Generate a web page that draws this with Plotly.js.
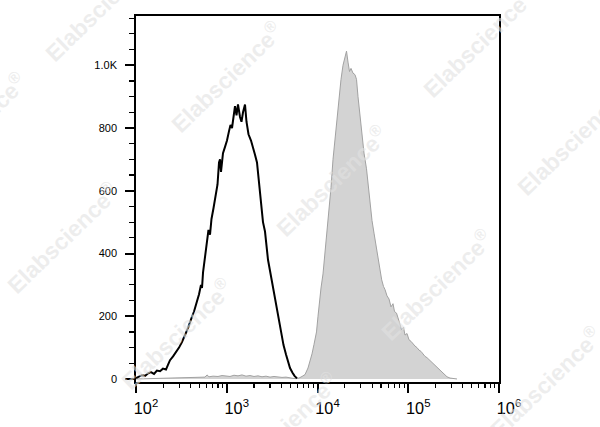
<!DOCTYPE html>
<html>
<head>
<meta charset="utf-8">
<script src="https://cdn.plot.ly/plotly-3.0.1.min.js"></script>
<style>html,body{margin:0;padding:0;background:#fff;}#chart{width:600px;height:427px;}</style>
</head>
<body>
<div id="chart"></div>
<script>
// Control (black outline) histogram: fluorescence intensity vs count
const controlIntensity = [100,108,116,126,136,146,158,170,184,198,214,225,237,256,276,298,321,347,374,404,436,470,495,520,534,548,576,606,629,654,679,715,752,791,822,843,864,909,957,1006,1059,1100,1143,1187,1233,1281,1330,1400,1454,1511,1589,1650,1736,1850,1947,2048,2154,2238,2325,2415,2508,2639,2742,2848,2996,3152,3316,3534,3765,3961,4221,4498,4732,4977,5304,5580,5946];
const controlCount = [3,8,12,10,18,22,16,27,25,33,30,45,60,72,85,100,118,138,162,190,215,248,270,300,290,340,395,440,475,460,510,545,580,620,690,700,660,720,740,760,790,810,800,840,870,840,875,835,820,850,875,820,780,760,740,715,690,640,600,530,500,470,420,380,345,310,270,230,180,140,108,78,55,35,20,10,2];

// Stained sample (grey filled) histogram
const stainedIntensity = [100,143,198,269,394,507,576,606,637,706,801,887,981,1086,1202,1330,1472,1630,1804,1997,2210,2446,2707,2996,3316,3670,4062,4498,4977,5370,5797,6254,6748,7283,7858,8268,8697,9149,9750,10130,10520,10930,11500,12090,12730,13390,14080,14820,15590,16400,17260,18160,19100,19840,20870,21680,22520,23390,24610,25890,26900,27940,29400,30930,32540,34670,36010,37890,39860,41940,44120,46420,48840,50990,53380,55450,58340,61370,64570,67920,70550,74220,77110,81130,84270,88660,92110,96900,101900,107200,112800,118700,124900,131400,138200,145400,152900,160900,169300,178100,187400,197100,207400,218200,229600,241500,254100,267300,288500,311300,344600];
const stainedCount = [0,1,2,3,3,4,6,13,7,9,8,11,9,8,12,10,13,9,11,8,10,7,9,6,8,6,5,6,3,2,1,3,8,14,35,55,80,110,150,200,250,290,335,400,455,540,610,700,770,815,900,955,1000,1020,1045,1010,980,990,975,970,955,900,840,780,720,670,620,560,505,465,425,390,350,316,295,285,265,255,230,240,215,210,195,175,158,165,140,145,125,120,112,105,100,92,88,78,72,68,62,55,50,42,35,32,25,18,12,7,3,1,0];

// Axis tick labels
const yTickVals = [0,200,400,600,800,1000];
const yTickText = ['0','200','400','600','800','1.0K'];
const watermarkText = 'Elabscience<sup>®</sup>';

// plot area in px (for watermark placement only)
const L = 136, R = 499, T = 16, B = 382;
const wmCenters = [[226,77],[331,181],[436,285],[545,382],[100,6],[478,42],[572,140],[62,238],[176,334],[282,428],[-30,128]];
const annotations = wmCenters.map(([px,py]) => ({
  xref:'paper', yref:'paper',
  x:(px-L)/(R-L), y:(B-py)/(B-T),
  xanchor:'center', yanchor:'middle',
  text: watermarkText, showarrow:false, textangle:-44,
  font:{family:'Liberation Sans, Arial, sans-serif', size:23, color:'rgba(226,226,226,0.6)', weight:'bold'}
}));

const traces = [
  {x: stainedIntensity, y: stainedCount, type:'scatter', mode:'lines', fill:'tozeroy',
   fillcolor:'#d3d3d3', line:{color:'#a2a2a2', width:1}, hoverinfo:'skip'},
  {x: controlIntensity, y: controlCount, type:'scatter', mode:'lines',
   line:{color:'#000000', width:2}, hoverinfo:'skip'}
];

const layout = {
  width:600, height:427,
  margin:{l:L, r:600-R, t:T, b:427-B, pad:0},
  paper_bgcolor:'#ffffff', plot_bgcolor:'#ffffff',
  showlegend:false,
  font:{family:'Liberation Sans, Arial, sans-serif', color:'#000'},
  xaxis:{
    type:'log', range:[2,6], dtick:1, tick0:0,
    exponentformat:'power', showexponent:'all',
    ticks:'outside', ticklen:9, tickwidth:2, tickcolor:'#000',
    minor:{ticks:'outside', dtick:'D1', ticklen:4, tickwidth:1.2, tickcolor:'#000', showgrid:false},
    showline:true, linecolor:'#000', linewidth:1.8, mirror:true,
    showgrid:false, zeroline:false,
    tickfont:{size:13, color:'#000'}, ticklabelshift:10, ticklabelstandoff:2
  },
  yaxis:{
    range:[-9.6,1157],
    tickmode:'array', tickvals:yTickVals, ticktext:yTickText,
    ticks:'outside', ticklen:9, tickwidth:2, tickcolor:'#000',
    minor:{ticks:'outside', dtick:50, tick0:0, ticklen:5, tickwidth:1.2, tickcolor:'#000', showgrid:false},
    showline:true, linecolor:'#000', linewidth:1.8, mirror:true,
    showgrid:false, zeroline:false,
    tickfont:{size:11, color:'#000'}, ticklabelstandoff:6
  },
  annotations: annotations
};

Plotly.newPlot('chart', traces, layout, {staticPlot:true, displayModeBar:false});
</script>
</body>
</html>
